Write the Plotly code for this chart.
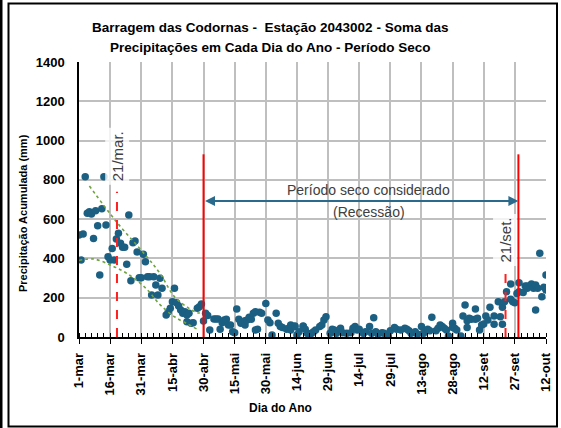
import plotly.graph_objects as go

# ---- data ----
dias = [0,1,2,3,4,5,6,7,8,9,10,11,12,13,14,15,16,17,18,19,20,21,22,23,24,25,26,27,28,29,30,31,32,33,34,35,36,37,38,39,40,
        42,43,44,45,46,47,48,49,50,51,52,52,53,54,55,57,58,59,60,
        61,62,63,65,66,67,68,69,70,71,72,73,74,75,76,77,78,78,80,80,81,82,83,84,85,85,86,87,88,90,91,92,93,95,96,97,98,100,101,102,102,104,104,105,106,
        108,108,109,110,111,112,113,114,116,117,118,119,121,122,123,124,126,127,129,131,132,133,134,135,137,138,140,141,142,143,144,146,147,149,150,152,153,155,157,158,159,160,162,163,165,166,167,168,169,170,172,173,174,175,176,177,178,180,180,181,182,184,
        185,186,187,187,188,189,191,191,192,193,194,195,196,197,198,200,200,202,203,204,204,205,206,208,208,209,210,211,212,212,214,215,216,216,218,219,220,220,221,222,223,224,225,225]
precip = [519,392,524,816,630,638,626,502,643,567,316,653,816,570,409,392,451,392,499,528,477,457,457,370,621,287,480,489,433,302,302,421,383,307,307,214,307,265,214,299,248,
          112,129,146,180,248,175,158,137,121,129,112,78,121,70,73,146,154,168,81,
          121,110,36,92,92,92,39,73,87,90,61,61,27,22,143,90,70,78,61,83,87,100,90,121,36,129,39,126,121,171,87,73,10,121,70,53,49,39,44,36,61,53,56,10,27,
          56,53,39,19,3,19,27,36,53,61,87,103,19,39,36,19,44,22,19,22,44,53,36,39,19,27,53,19,98,27,15,22,19,5,32,49,39,36,44,39,32,19,27,15,53,19,32,39,32,100,32,44,61,53,44,36,5,70,49,44,36,5,
          107,163,49,83,95,90,90,143,95,36,61,66,107,87,151,107,65,180,103,65,151,180,231,270,192,180,175,222,231,276,226,260,248,260,270,248,137,265,248,426,205,253,316,239]

tend_sup_dias = [5, 18, 32, 39, 46, 53, 57, 60]
tend_sup_vals = [769, 587, 417, 324, 205, 146, 124, 122]
tend_inf_dias = [0, 7, 15, 23, 32, 39, 46, 52, 57]
tend_inf_vals = [390, 397, 367, 324, 250, 165, 103, 68, 39]

rotulos_x = ['1-mar','16-mar','31-mar','15-abr','30-abr','15-mai','30-mai','14-jun','29-jun',
             '14-jul','29-jul','13-ago','28-ago','12-set','27-set','12-out']
pos_rotulos = [15 * i for i in range(len(rotulos_x))]

limites_seco = [60, 211.7]      # solid red lines (period limits)
altura_limites = 930
marcos_dias = [18.3, 205.5]     # dashed red lines (21/mar, 21/set)
altura_marcos = [740, 365]
rotulos_marcos = ['21/mar.', '21/set.']
y_rotulos_marcos = [920, 494]

titulo_linhas = ['Barragem das Codornas -  Estação 2043002 - Soma das',
                 'Precipitações em Cada Dia do Ano - Período Seco']

# ---- figure ----
W, H = 561, 428
L, R, T, B = 79, 15, 62, 91
pw, ph = W - L - R, H - T - B

def px(xp):
    return (xp - L) / pw

def py(yp):
    return (H - B - yp) / ph

fig = go.Figure()

fig.add_trace(go.Scatter(x=dias, y=precip, mode='markers',
                         marker=dict(color='#1B5F82', size=7.5, line=dict(width=0)),
                         showlegend=False, hoverinfo='skip'))
fig.add_trace(go.Scatter(x=tend_sup_dias, y=tend_sup_vals, mode='lines', line_shape='spline',
                         line=dict(color='#6FA33F', width=1.6, dash='dot'), showlegend=False))
fig.add_trace(go.Scatter(x=tend_inf_dias, y=tend_inf_vals, mode='lines', line_shape='spline',
                         line=dict(color='#6FA33F', width=1.6, dash='dot'), showlegend=False))

shapes = []
for d in limites_seco:
    shapes.append(dict(type='line', xref='x', yref='y', x0=d, x1=d, y0=0, y1=altura_limites,
                       line=dict(color='#FF0000', width=2)))
for d, h in zip(marcos_dias, altura_marcos):
    shapes.append(dict(type='line', xref='x', yref='y', x0=d, x1=d, y0=0, y1=h,
                       line=dict(color='#FF2020', width=2, dash='dash')))
# chart frame
shapes.append(dict(type='rect', xref='paper', yref='paper', x0=px(8.5), x1=px(557), y0=py(426.5), y1=py(3.5),
                   line=dict(color='#000000', width=2), layer='above'))
shapes.append(dict(type='line', xref='paper', yref='paper', x0=px(1), x1=px(1), y0=py(428), y1=py(0),
                   line=dict(color='#000000', width=3)))

tfam = 'Liberation Sans, Arial, sans-serif'
annotations = []
for i, (linha, yy) in enumerate(zip(titulo_linhas, [27, 47])):
    annotations.append(dict(xref='paper', yref='paper', x=px(270), y=py(yy), xanchor='center', yanchor='middle',
                            text='<b>%s</b>' % linha, showarrow=False,
                            font=dict(family=tfam, size=13.5, color='#000000')))
annotations.append(dict(xref='paper', yref='paper', x=px(280), y=py(408), xanchor='center', yanchor='middle',
                        text='<b>Dia do Ano</b>', showarrow=False,
                        font=dict(family=tfam, size=12, color='#000000')))
annotations.append(dict(xref='paper', yref='paper', x=px(23), y=py(213), xanchor='center', yanchor='middle',
                        text='<b>Precipitação Acumulada (mm)</b>', textangle=-90, showarrow=False,
                        font=dict(family=tfam, size=11, color='#000000')))
for d, yv, t in zip(marcos_dias, y_rotulos_marcos, rotulos_marcos):
    annotations.append(dict(xref='x', yref='y', x=d, y=yv, text=t, textangle=-90, showarrow=False,
                            bgcolor='rgba(255,255,255,0.8)', borderpad=3,
                            font=dict(family=tfam, size=15, color='#404040')))
annotations.append(dict(xref='x', yref='y', x=limites_seco[1], y=692, ax=limites_seco[0], ay=692,
                        axref='x', ayref='y', text='', showarrow=True, arrowside='end+start',
                        arrowhead=2, arrowsize=1, arrowwidth=2, arrowcolor='#2A6A8C'))
annotations.append(dict(xref='x', yref='y', x=139.5, y=748, text='Período seco considerado', showarrow=False,
                        font=dict(family=tfam, size=14, color='#404040')))
annotations.append(dict(xref='x', yref='y', x=139.5, y=636, text='(Recessão)', showarrow=False,
                        font=dict(family=tfam, size=14, color='#404040')))

tickfont = dict(family=tfam, size=13, color='#000000')
fig.update_layout(
    width=W, height=H, margin=dict(l=L, r=R, t=T, b=B, autoexpand=False),
    paper_bgcolor='white', plot_bgcolor='white',
    shapes=shapes, annotations=annotations, showlegend=False,
    xaxis=dict(range=[0, 225], tickmode='array', tickvals=pos_rotulos,
               ticktext=['<b>%s</b>' % t for t in rotulos_x], tickangle=-90,
               tickfont=tickfont, showgrid=True, gridcolor='#BFBFBF', gridwidth=1.5,
               showline=True, linecolor='#000000', linewidth=1.5,
               ticks='outside', ticklen=5, tickcolor='#000000', tickwidth=1.2,
               ticklabelstandoff=4,
               minor=dict(dtick=3, tick0=0, ticks='inside', ticklen=4, tickcolor='#000000', tickwidth=1, showgrid=False),
               zeroline=False, fixedrange=True, automargin=False),
    yaxis=dict(range=[0, 1400], dtick=200, tickfont=tickfont, tickprefix='<b>', ticksuffix='</b>',
               showgrid=True, gridcolor='#BFBFBF', gridwidth=1.5,
               showline=True, linecolor='#000000', linewidth=1.5, ticks='', zeroline=False,
               ticklabelstandoff=10, fixedrange=True, automargin=False),
)

fig.write_html('out.html', config={'displayModeBar': False},
               post_script="document.body.style.margin='0px';")
